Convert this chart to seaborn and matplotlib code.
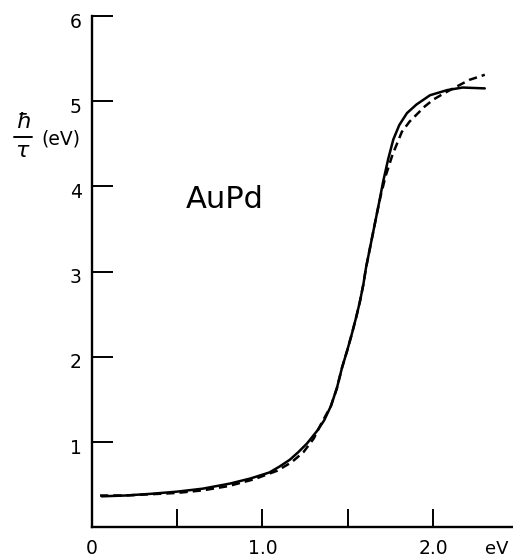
import matplotlib
matplotlib.use('Agg')
import matplotlib.pyplot as plt
import matplotlib.transforms as mtransforms
import seaborn as sns

# solid curve
solid_x = [0.06, 0.20, 0.35, 0.50, 0.65, 0.81, 0.93, 1.04, 1.10, 1.16, 1.21, 1.26, 1.32,
           1.36, 1.40, 1.435, 1.465, 1.495, 1.523, 1.55, 1.57, 1.59, 1.605, 1.625, 1.645,
           1.665, 1.685, 1.705, 1.735, 1.765, 1.80, 1.845, 1.90, 1.98, 2.08, 2.17, 2.30]
solid_y = [0.36, 0.37, 0.39, 0.415, 0.45, 0.51, 0.57, 0.64, 0.71, 0.79, 0.88, 0.98, 1.13,
           1.25, 1.42, 1.63, 1.87, 2.07, 2.27, 2.48, 2.65, 2.85, 3.04, 3.24, 3.44,
           3.64, 3.84, 4.05, 4.32, 4.55, 4.72, 4.86, 4.96, 5.07, 5.13, 5.16, 5.15]

# dashed curve
dash_x = [0.05, 0.20, 0.35, 0.50, 0.65, 0.80, 0.95, 1.085, 1.17, 1.24, 1.30, 1.34,
          1.40, 1.435, 1.465, 1.495, 1.523, 1.55, 1.57, 1.59, 1.605, 1.625, 1.645, 1.665,
          1.69, 1.72, 1.76, 1.815, 1.86, 1.90, 1.95, 2.0, 2.06, 2.115, 2.21, 2.30]
dash_y = [0.37, 0.37, 0.385, 0.40, 0.43, 0.48, 0.56, 0.66, 0.76, 0.88, 1.04, 1.20,
          1.42, 1.63, 1.87, 2.07, 2.27, 2.48, 2.65, 2.85, 3.04, 3.24, 3.44, 3.64,
          3.88, 4.12, 4.37, 4.64, 4.76, 4.84, 4.94, 5.02, 5.09, 5.15, 5.25, 5.31]

xticks = [0, 0.5, 1.0, 1.5, 2.0]
xlabels = ['0', '', '1.0', '', '2.0']
yticks = [1, 2, 3, 4, 5, 6]
ylabels = ['1', '2', '3', '4', '5', '6']

sns.set_style('ticks')
plt.rcParams['font.family'] = ['DejaVu Sans']
plt.rcParams['mathtext.fontset'] = 'dejavusans'
plt.rcParams['text.color'] = 'black'

fig = plt.figure(figsize=(5.13, 5.59), dpi=100)
ax = fig.add_axes([91.5 / 513, 32 / 559, 421.5 / 513, 511 / 559])

sns.lineplot(x=solid_x, y=solid_y, ax=ax, color='black', lw=1.8, sort=False)
sns.lineplot(x=dash_x, y=dash_y, ax=ax, color='black', lw=1.8, sort=False)
ax.lines[-1].set_dashes([3.3, 2.0])

ax.set_xlim(0, 2.465)
ax.set_ylim(0, 6)
ax.set_xticks(xticks)
ax.set_xticklabels(xlabels)
ax.set_yticks(yticks)
ax.set_yticklabels(ylabels)

for s in ['top', 'right']:
    ax.spines[s].set_visible(False)
for s in ['left', 'bottom']:
    ax.spines[s].set_linewidth(1.7)
    ax.spines[s].set_color('black')

ax.tick_params(axis='y', direction='in', left=True, length=15, width=1.4, pad=7,
               labelsize=13.5, colors='black')
ax.tick_params(axis='x', direction='in', bottom=True, length=13, width=1.4, pad=9,
               labelsize=13.5, colors='black')

# y tick labels sit a little below their ticks
shift = mtransforms.ScaledTranslation(0, -3 / 72, fig.dpi_scale_trans)
for lab in ax.get_yticklabels():
    lab.set_transform(lab.get_transform() + shift)

ax.text(2.30, -0.26, 'eV', fontsize=13, ha='left', va='center', color='black')
ax.text(0.55, 3.84, 'AuPd', fontsize=22, ha='left', va='center', color='black')

# y label: hbar over tau, then (eV)
fig.text(23 / 513, 1 - 122 / 559, r'$\hbar$', fontsize=16, ha='center', va='center')
fig.text(23 / 513, 1 - 151 / 559, r'$\tau$', fontsize=16, ha='center', va='center')
fig.add_artist(plt.Line2D([14 / 513, 32 / 513], [1 - 137 / 559, 1 - 137 / 559],
                          color='black', lw=1.4))
fig.text(41 / 513, 1 - 139 / 559, '(eV)', fontsize=13.5, ha='left', va='center')

fig.savefig('out.png', dpi=100, facecolor='white')
